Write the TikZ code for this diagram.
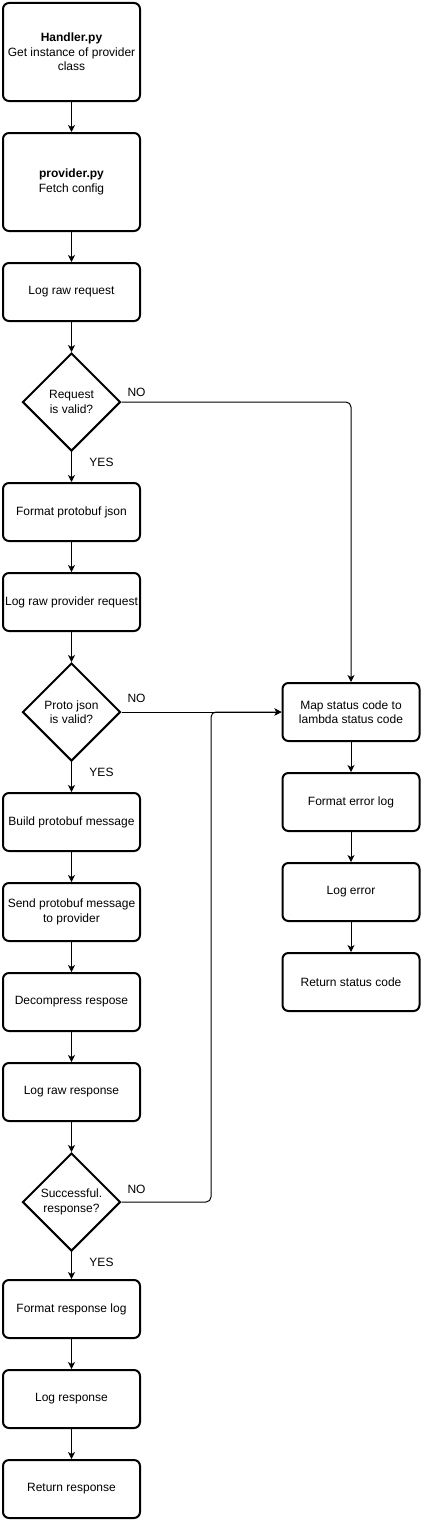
\documentclass[tikz,border=0pt]{standalone}
\usepackage{fontspec}
\setmainfont{Liberation Sans}
\usetikzlibrary{shapes.geometric,arrows.meta}

\begin{document}
\begin{tikzpicture}[x=1pt, y=1pt, font=\fontsize{12}{14.5}\selectfont,
    box/.style={draw, line width=2pt, rectangle, rounded corners=6pt, minimum width=137pt, minimum height=58pt, align=center, inner sep=0pt},
    tallbox/.style={box, minimum height=98pt},
    decision/.style={draw, line width=2pt, diamond, minimum width=98pt, minimum height=98pt, inner sep=0pt, align=center},
    arr/.style={-{Stealth[length=7pt,width=7pt,inset=2pt]}, line width=1pt},
    lbl/.style={inner sep=0pt}]
    \useasboundingbox (0,0) rectangle (422,-1520);

    % main column
    \node[tallbox] (handler) at (71.5, -52) {\textbf{Handler.py}\\Get instance of provider\\class};
    \node[tallbox] (provider) at (71.5, -182) {\textbf{provider.py}\\Fetch config};
    \node[box] (lograwreq) at (71.5, -292) {Log raw request};
    \node[decision] (reqvalid) at (71.5, -402) {Request\\is valid?};
    \node[box] (fmtjson) at (71.5, -512) {Format protobuf json};
    \node[box] (lograwprov) at (71.5, -602) {Log raw provider request};
    \node[decision] (jsonvalid) at (71.5, -712) {Proto json\\is valid?};
    \node[box] (buildmsg) at (71.5, -822) {Build protobuf message};
    \node[box] (sendmsg) at (71.5, -912) {Send protobuf message\\to provider};
    \node[box] (decomp) at (71.5, -1002) {Decompress respose};
    \node[box] (lograwresp) at (71.5, -1092) {Log raw response};
    \node[decision] (success) at (71.5, -1202) {Successful.\\response?};
    \node[box] (fmtresp) at (71.5, -1309) {Format response log};
    \node[box] (logresp) at (71.5, -1399) {Log response};
    \node[box] (retresp) at (71.5, -1489) {Return response};

    % error column
    \node[box] (mapcode) at (351, -712) {Map status code to\\lambda status code};
    \node[box] (fmterr) at (351, -802) {Format error log};
    \node[box] (logerr) at (351, -892) {Log error};
    \node[box] (retcode) at (351, -982) {Return status code};

    \coordinate (errjoin) at (211, -1202);

    \draw[arr] (handler) -- (provider);
    \draw[arr] (provider) -- (lograwreq);
    \draw[arr] (lograwreq) -- (reqvalid);
    \draw[arr] (reqvalid) -- (fmtjson);
    \draw[arr] (fmtjson) -- (lograwprov);
    \draw[arr] (lograwprov) -- (jsonvalid);
    \draw[arr] (jsonvalid) -- (buildmsg);
    \draw[arr] (buildmsg) -- (sendmsg);
    \draw[arr] (sendmsg) -- (decomp);
    \draw[arr] (decomp) -- (lograwresp);
    \draw[arr] (lograwresp) -- (success);
    \draw[arr] (success) -- (fmtresp);
    \draw[arr] (fmtresp) -- (logresp);
    \draw[arr] (logresp) -- (retresp);

    \draw[arr, rounded corners=5pt] (reqvalid.east) -| (mapcode.north);
    \draw[arr] (jsonvalid.east) -- (mapcode.west);
    \draw[arr, rounded corners=5pt] (success.east) -- (errjoin) |- (mapcode.west);

    \draw[arr] (mapcode) -- (fmterr);
    \draw[arr] (fmterr) -- (logerr);
    \draw[arr] (logerr) -- (retcode);

    \node[lbl] (no1) at (136.5, -392) {NO};
    \node[lbl] (yes1) at (101.5, -462) {YES};
    \node[lbl] (no2) at (136.5, -698) {NO};
    \node[lbl] (yes2) at (101.5, -772) {YES};
    \node[lbl] (no3) at (136.5, -1189) {NO};
    \node[lbl] (yes3) at (101.5, -1262) {YES};
\end{tikzpicture}
\end{document}
